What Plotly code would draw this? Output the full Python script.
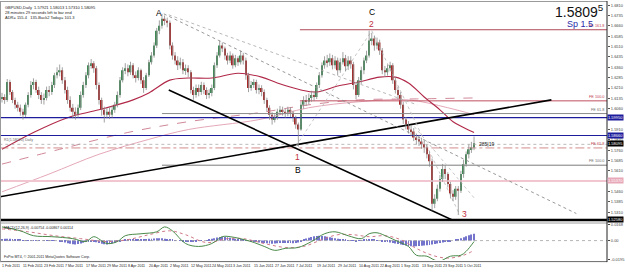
import plotly.graph_objects as go

# ---------------- data (GBPUSD daily) ----------------
OPEN0 = 1.6130
CLOSE = [
1.6145,1.6124,1.6253,1.6181,1.6124,1.6088,1.6067,1.6038,1.6017,1.6088,
1.6160,1.6231,1.6253,1.6196,1.6160,1.6124,1.6138,1.6196,1.6181,1.6231,
1.6303,1.6324,1.6339,1.6267,1.6196,1.6124,1.6067,1.6038,1.6017,1.6067,
1.6160,1.6231,1.6303,1.6375,1.6389,1.6353,1.6231,1.6124,1.6052,1.6017,
1.6038,1.6017,1.6052,1.6088,1.6160,1.6267,1.6339,1.6353,1.6324,1.6375,
1.6303,1.6282,1.6339,1.6267,1.6210,1.6303,1.6396,1.6446,1.6518,1.6625,
1.6661,1.6711,1.6697,1.6682,1.6518,1.6446,1.6410,1.6375,1.6396,1.6339,
1.6353,1.6324,1.6196,1.6160,1.6210,1.6181,1.6231,1.6196,1.6160,1.6174,
1.6210,1.6375,1.6446,1.6518,1.6496,1.6446,1.6410,1.6446,1.6375,1.6425,
1.6396,1.6446,1.6410,1.6303,1.6210,1.6231,1.6253,1.6196,1.6210,1.6181,
1.6124,1.6067,1.6017,1.5981,1.5995,1.6038,1.6052,1.6038,1.6024,1.6052,
1.6031,1.5995,1.5945,1.5909,1.6088,1.6124,1.6110,1.6138,1.6160,1.6145,
1.6231,1.6303,1.6375,1.6410,1.6396,1.6425,1.6375,1.6410,1.6339,1.6396,
1.6425,1.6367,1.6410,1.6382,1.6231,1.6160,1.6267,1.6339,1.6410,1.6446,
1.6554,1.6568,1.6518,1.6539,1.6482,1.6339,1.6324,1.6353,1.6375,1.6267,
1.6196,1.6160,1.6088,1.5981,1.5945,1.5909,1.5895,1.5852,1.5838,1.5823,
1.5802,1.5780,1.5730,1.5680,1.5372,1.5408,1.5480,1.5551,1.5623,1.5587,
1.5515,1.5444,1.5422,1.5480,1.5465,1.5587,1.5658,1.5730,1.5766,1.5780,
1.5809]
HIGH = [
1.6175,1.6165,1.6275,1.6270,1.6195,1.6140,1.6110,1.6090,1.6060,1.6105,
1.6180,1.6260,1.6280,1.6270,1.6220,1.6180,1.6170,1.6220,1.6225,1.6255,
1.6320,1.6360,1.6380,1.6360,1.6290,1.6220,1.6150,1.6095,1.6070,1.6090,
1.6185,1.6255,1.6325,1.6395,1.6420,1.6405,1.6370,1.6250,1.6140,1.6075,
1.6065,1.6070,1.6080,1.6110,1.6185,1.6290,1.6360,1.6390,1.6380,1.6400,
1.6390,1.6330,1.6360,1.6350,1.6290,1.6320,1.6415,1.6470,1.6540,1.6645,
1.6700,1.6747,1.6735,1.6720,1.6700,1.6540,1.6470,1.6440,1.6430,1.6420,
1.6380,1.6375,1.6340,1.6220,1.6235,1.6235,1.6255,1.6250,1.6215,1.6200,
1.6235,1.6395,1.6470,1.6554,1.6540,1.6510,1.6465,1.6475,1.6460,1.6450,
1.6440,1.6480,1.6465,1.6430,1.6320,1.6260,1.6275,1.6270,1.6235,1.6230,
1.6200,1.6140,1.6085,1.6035,1.6020,1.6060,1.6080,1.6075,1.6060,1.6075,
1.6070,1.6045,1.6010,1.5960,1.6110,1.6150,1.6160,1.6170,1.6190,1.6185,
1.6250,1.6325,1.6395,1.6440,1.6450,1.6460,1.6450,1.6440,1.6430,1.6425,
1.6470,1.6450,1.6440,1.6440,1.6400,1.6250,1.6290,1.6365,1.6430,1.6480,
1.6625,1.6610,1.6590,1.6575,1.6560,1.6500,1.6370,1.6380,1.6400,1.6390,
1.6290,1.6220,1.6180,1.6110,1.6000,1.5970,1.5940,1.5920,1.5880,1.5870,
1.5850,1.5830,1.5800,1.5750,1.5700,1.5440,1.5510,1.5580,1.5660,1.5650,
1.5600,1.5530,1.5470,1.5500,1.5500,1.5610,1.5690,1.5750,1.5800,1.5820,
1.5859]
LOW = [
1.6105,1.6095,1.6110,1.6160,1.6100,1.6060,1.6040,1.6010,1.5981,1.6000,
1.6070,1.6140,1.6200,1.6175,1.6130,1.6095,1.6090,1.6120,1.6150,1.6160,
1.6210,1.6280,1.6295,1.6240,1.6170,1.6095,1.6040,1.5990,1.5981,1.5995,
1.6050,1.6140,1.6210,1.6280,1.6350,1.6320,1.6200,1.6090,1.6010,1.5960,
1.5990,1.5985,1.5995,1.6030,1.6070,1.6140,1.6250,1.6310,1.6295,1.6305,
1.6280,1.6250,1.6265,1.6240,1.6175,1.6195,1.6290,1.6380,1.6430,1.6500,
1.6600,1.6640,1.6665,1.6650,1.6490,1.6415,1.6380,1.6340,1.6350,1.6310,
1.6305,1.6290,1.6170,1.6125,1.6140,1.6150,1.6160,1.6165,1.6130,1.6135,
1.6150,1.6195,1.6355,1.6430,1.6470,1.6415,1.6380,1.6390,1.6350,1.6360,
1.6370,1.6380,1.6380,1.6270,1.6180,1.6190,1.6210,1.6170,1.6165,1.6150,
1.6095,1.6040,1.5980,1.5945,1.5960,1.5980,1.6015,1.6010,1.5995,1.6005,
1.6000,1.5965,1.5915,1.5785,1.5900,1.6060,1.6080,1.6090,1.6110,1.6115,
1.6130,1.6210,1.6285,1.6350,1.6360,1.6370,1.6345,1.6350,1.6300,1.6320,
1.6380,1.6330,1.6340,1.6350,1.6200,1.6130,1.6145,1.6240,1.6310,1.6390,
1.6430,1.6520,1.6480,1.6490,1.6450,1.6310,1.6290,1.6300,1.6330,1.6240,
1.6170,1.6130,1.6060,1.5950,1.5910,1.5880,1.5860,1.5825,1.5800,1.5790,
1.5770,1.5740,1.5700,1.5640,1.5322,1.5340,1.5390,1.5460,1.5530,1.5550,
1.5490,1.5410,1.5390,1.5400,1.5290,1.5450,1.5560,1.5640,1.5700,1.5740,
1.5760]

# moving averages (sampled bar index, value)
MA1_I = [0,12,25,37,50,56,64,71,80,90,99,105,114,120,128,136,144,150,155,161,167,172,176,180]
MA1_V = [1.5766,1.5888,1.5995,1.6052,1.6124,1.6174,1.6267,1.6282,1.6282,1.6317,1.6289,1.6246,
         1.6196,1.6181,1.6224,1.6253,1.6289,1.6289,1.6246,1.6145,1.6052,1.5966,1.5924,1.5888]
MA2_I = [0,22,48,71,98,117,136,158,180]
MA2_V = [1.5659,1.5766,1.5888,1.5966,1.6031,1.6088,1.6124,1.6131,1.6138]
MA3_I = [0,18,37,56,71,98,117,136,155,170,180]
MA3_V = [1.5458,1.5587,1.5730,1.5838,1.5909,1.5981,1.6067,1.6110,1.6124,1.6067,1.6017]

# indicator panel
HIST = [0.0015,0.002,0.002,0.0018,0.0015,0.0012,0.001,0.0008,0.0005,0.0003,
 0.0002,0.0003,0.0005,0.0004,0.0002,0,-0.0002,-0.0003,0.0002,0.0004,0.0003,0,
 -0.001,-0.0015,-0.002,-0.0028,-0.0033,-0.0038,-0.004,-0.0035,-0.003,-0.0022,
 -0.0015,-0.001,-0.0008,-0.001,-0.0018,-0.0025,
 -0.0032,-0.0038,-0.004,-0.0036,-0.003,-0.0022,
 -0.0012,-0.0005,0.0002,0.0006,0.0008,0.001,0.0008,0.0006,0.0008,
 0.0012,0.0014,0.0015,0.0018,0.002,0.0022,0.0024,0.0025,0.0024,0.002,0.0016,0.0012,
 0.0008,0.0004,0,-0.0004,-0.0008,-0.001,-0.0012,-0.001,-0.0008,-0.0006,-0.0004,-0.0002,0,0.0005,0.001,
 0.0018,0.0025,0.0032,0.0038,0.004,0.0038,0.0035,0.003,0.0024,
 0.0018,0.0014,0.001,0.0008,0.0004,0,-0.0005,-0.001,
 -0.0015,-0.002,-0.0024,-0.0026,-0.0028,-0.003,-0.0032,-0.003,-0.0028,-0.0026,-0.0025,-0.0024,-0.0025,-0.0026,-0.0027,-0.0026,-0.002,
 -0.0005,0.001,0.0022,0.003,0.0038,0.0044,0.0048,0.005,0.0048,0.0044,0.004,0.0035,0.003,0.0025,0.002,
 0.0015,0.001,0.0006,0.0004,0.0002,-0.0002,-0.0005,-0.0003,0.0002,0.0006,0.001,0.0012,0.001,0.0006,0.0003,0,-0.0005,
 -0.001,-0.0015,-0.002,-0.0025,-0.003,-0.0035,-0.004,-0.0045,-0.005,-0.0055,-0.0058,-0.006,-0.0058,-0.0055,-0.0052,-0.005,-0.0048,-0.0045,-0.004,-0.0035,-0.003,-0.0025,-0.002,
 -0.0015,-0.001,-0.0005,0,0.0008,0.0015,0.0025,0.0035,0.0045,0.0055,0.0062,0.007]
MAIN_I = [0,7,12,19,27,32,35,40,44,47,53,59,62,65,70,75,80,84,87,95,100,104,108,113,118,123,127,132,137,140,143,147,151,155,158,162,165,167,171,175,177,180]
MAIN_V = [0.014,0.010,0.005,0.004,0.002,-0.001,0.004,-0.003,-0.001,0.005,0.007,0.009,0.014,0.010,-0.003,-0.006,-0.003,0.004,0.004,-0.001,-0.006,-0.010,-0.008,-0.007,-0.001,0.007,0.009,0.005,0.002,0.007,0.008,0.004,-0.001,-0.006,-0.015,-0.016,-0.020,-0.021,-0.016,-0.015,-0.011,-0.001]
SIG_I = [0,10,20,30,40,48,56,64,70,78,86,92,100,108,115,122,128,134,140,146,152,158,164,170,176,180]
SIG_V = [0.012,0.009,0.005,0.002,-0.001,0.001,0.006,0.010,0.006,-0.002,0.002,0.002,-0.003,-0.007,-0.006,0.001,0.006,0.006,0.004,0.005,0.001,-0.008,-0.015,-0.018,-0.015,-0.010]

DATE_LABELS = ["1 Feb 2011","11 Feb 2011","23 Feb 2011","7 Mar 2011","17 Mar 2011","29 Mar 2011",
               "8 Apr 2011","20 Apr 2011","2 May 2011","12 May 2011","24 May 2011","3 Jun 2011",
               "15 Jun 2011","27 Jun 2011","7 Jul 2011","19 Jul 2011","29 Jul 2011","10 Aug 2011",
               "22 Aug 2011","1 Sep 2011","13 Sep 2011","23 Sep 2011","5 Oct 2011"]
DATE_STEP = 8
PRICE_TICKS = [1.6810,1.6735,1.6660,1.6585,1.6510,1.6435,1.6360,1.6285,1.6210,1.6135,1.6060,
               1.5985,1.5910,1.5835,1.5760,1.5685,1.5610,1.5535,1.5460,1.5385,1.5310]

# horizontal levels: price, start bar, colour, width, dash
LEVELS = [
    (1.6632, 113.6, "#b04858", 1.0, "solid"),
    (1.6117, 113.6, "#c05060", 1.0, "solid"),
    (1.6025, 61.0, "#8c8c8c", 1.0, "solid"),
    (1.5995, -1.0, "#1c1c9c", 1.2, "solid"),
    (1.5866, -1.0, "#1c1c9c", 1.2, "solid"),
    (1.5802, -1.0, "#a8a8a8", 0.8, "dot"),
    (1.5776, -1.0, "#c87070", 0.8, "dashdot"),
    (1.5651, 61.0, "#7c7c7c", 1.0, "solid"),
    (1.5537, -1.0, "#f2c6d0", 2.0, "solid"),
    (1.5258, -1.0, "#000000", 1.5, "solid"),
]
LEVEL_TAGS = [("FE 161.8", 1.6632, "#c04050"), ("FE 100.0", 1.6117, "#c04050"),
              ("FE 61.8", 1.6025, "#707070"), ("FE 61.8", 1.5776, "#c04050"),
              ("FE 100.0", 1.5651, "#707070")]
AXIS_BOXES = [(1.5995, "1.59950", "#1c1c9c"), (1.5866, "1.58660", "#1c1c9c"),
              (1.5809, "1.58095", "#000000"), (1.5537, "1.55370", "#e8a8b8"),
              (1.5258, "1.52580", "#000000")]
# trend lines: x0, y0, x1, y1, colour, width, dash
TRENDS = [
    (63.6, 1.6196, 175.4, 1.5222, "#000000", 1.6, "solid"),
    (-0.76, 1.5422, 209.5, 1.6124, "#000000", 1.6, "solid"),
    (61.7, 1.6747, 219.0, 1.5301, "#8c8c8c", 0.9, "dot"),
    (63.6, 1.6740, 158.3, 1.6088, "#b0b0b0", 0.9, "dot"),
    (112.1, 1.5788, 141.0, 1.6625, "#c0c0c0", 0.9, "dot"),
    (141.0, 1.6625, 174.6, 1.5290, "#c0c0c0", 0.9, "dot"),
    (157.2, 1.5931, 180.3, 1.5408, "#c0c0c0", 0.9, "dot"),
]
# text, bar, price, colour, yshift, xshift
WAVE_LABELS = [("A", 61, 1.6747, "#000000", 1, -3), ("C", 141, 1.6625, "#000000", 19, 0),
               ("2", 141, 1.6625, "#c03040", 7, 0), ("1", 112.8, 1.5785, "#c03040", -10.5, 0),
               ("B", 112.8, 1.5785, "#000000", -23.5, 0), ("3", 175.0, 1.5290, "#c03040", 1, 4)]

# ---------------- figure ----------------
H, W = 272, 625
def yp(px):
    return 1 - px / H

n = min(len(CLOSE), len(HIGH), len(LOW))
IDX = list(range(n))
OPEN = [OPEN0] + CLOSE[:n - 1]
XMIN, XMAX = -0.76, 230.7
YMIN, YMAX = 1.5250, 1.6833
FONT = "Liberation Sans, Arial, sans-serif"

fig = go.Figure()

fig.add_trace(go.Scatter(x=MA3_I, y=MA3_V, mode="lines", line=dict(color="#e4a8b8", width=1, shape="spline"), hoverinfo="skip"))
fig.add_trace(go.Scatter(x=MA2_I, y=MA2_V, mode="lines", line=dict(color="#d08898", width=1, dash="dash", shape="spline"), hoverinfo="skip"))
fig.add_trace(go.Scatter(x=MA1_I, y=MA1_V, mode="lines", line=dict(color="#b02848", width=1.1, shape="spline"), hoverinfo="skip"))

for (p, s, c, w, d) in LEVELS:
    fig.add_trace(go.Scatter(x=[s, XMAX + 2], y=[p, p], mode="lines", line=dict(color=c, width=w, dash=d), hoverinfo="skip"))
for (x0, y0, x1, y1, c, w, d) in TRENDS:
    fig.add_trace(go.Scatter(x=[x0, x1], y=[y0, y1], mode="lines", line=dict(color=c, width=w, dash=d), hoverinfo="skip"))

wx, wy = [], []
for i in IDX:
    wx += [i, i, None]
    wy += [LOW[i], HIGH[i], None]
fig.add_trace(go.Scatter(x=wx, y=wy, mode="lines", line=dict(color="#8a8a8a", width=0.8), hoverinfo="skip"))
base = [min(OPEN[i], CLOSE[i]) for i in IDX]
hgt = [max(abs(CLOSE[i] - OPEN[i]), 0.0004) for i in IDX]
cols = ["#3f8a55" if CLOSE[i] >= OPEN[i] else "#a82828" for i in IDX]
fig.add_trace(go.Bar(x=IDX, y=hgt, base=base, width=0.62, marker=dict(color=cols, line=dict(width=0)), hoverinfo="skip"))

fig.add_trace(go.Scatter(x=[XMIN, XMAX + 2], y=[0, 0], mode="lines", line=dict(color="#a0a0a0", width=0.8, dash="dot"), xaxis="x", yaxis="y2", hoverinfo="skip"))
fig.add_trace(go.Bar(x=IDX, y=HIST[:n], width=0.35, marker=dict(color="#7474cc", line=dict(width=0)), xaxis="x", yaxis="y2", hoverinfo="skip"))
fig.add_trace(go.Scatter(x=SIG_I, y=SIG_V, mode="lines", line=dict(color="#d07888", width=1, dash="dot", shape="spline"), xaxis="x", yaxis="y2", hoverinfo="skip"))
fig.add_trace(go.Scatter(x=MAIN_I, y=MAIN_V, mode="lines", line=dict(color="#4a8a4a", width=1, shape="spline"), xaxis="x", yaxis="y2", hoverinfo="skip"))

ann = []
for k, lab in enumerate(DATE_LABELS):
    ann.append(dict(x=k * DATE_STEP, y=yp(268), xref="x", yref="paper", text=lab, showarrow=False,
                    xanchor="left", yanchor="middle", xshift=-2, font=dict(size=3.6, color="#222", family=FONT)))
for (t, x, y, c, sh, xs) in WAVE_LABELS:
    ann.append(dict(x=x, y=y, xref="x", yref="y", text=t, showarrow=False, yshift=sh, xshift=xs,
                    yanchor="middle", font=dict(size=8.5, color=c, family=FONT)))
for (t, p, c) in LEVEL_TAGS:
    ann.append(dict(x=0.998, y=p, xref="paper", yref="y", text=t, showarrow=False, xanchor="right", yanchor="bottom",
                    font=dict(size=3.8, color=c, family=FONT)))
for (p, t, c) in AXIS_BOXES:
    ann.append(dict(x=1.0, y=p, xref="paper", yref="y", text=t, showarrow=False, xanchor="left", yanchor="middle",
                    bgcolor=c, borderpad=0, font=dict(size=4, color="#ffffff", family=FONT)))
ann.append(dict(x=181, y=1.5802, xref="x", yref="y", text="285|19", showarrow=False, xanchor="left", yanchor="middle",
                font=dict(size=5, color="#222", family=FONT)))
ann.append(dict(x=0.004, y=1.5802, xref="paper", yref="y", text="R1(1.58020) Daily", showarrow=False, xanchor="left",
                yanchor="bottom", font=dict(size=3.6, color="#666", family=FONT)))
for k, t in enumerate(["GBPUSD,Daily  1.57921 1.58013 1.57310 1.58095",
                       "28 minutes 29 seconds left to bar end",
                       "ADR= 155.4   135-Back2 Today= 101.3"]):
    ann.append(dict(x=0.005, y=yp(2 + k * 5), xref="paper", yref="paper", text=t, showarrow=False,
                    xanchor="left", yanchor="top", font=dict(size=4, color="#222", family=FONT)))
ann.append(dict(x=0.999, y=yp(-1), xref="paper", yref="paper", text="1.5809<sup>5</sup>", showarrow=False,
                xanchor="right", yanchor="top", font=dict(size=14, color="#111", family=FONT)))
ann.append(dict(x=0.980, y=yp(16), xref="paper", yref="paper", text="Sp 1.5", showarrow=False,
                xanchor="right", yanchor="top", font=dict(size=9, color="#2a2aa8", family=FONT)))
ann.append(dict(x=0.004, y=yp(225), xref="paper", yref="paper", text="MACD(12,26,9) -0.00754 -0.00867 0.00114",
                showarrow=False, xanchor="left", yanchor="top", font=dict(size=3.6, color="#222", family=FONT)))
ann.append(dict(x=0.004, y=yp(263), xref="paper", yref="paper", text="FxPro MT4, © 2001-2011 MetaQuotes Software Corp.",
                showarrow=False, xanchor="left", yanchor="bottom", font=dict(size=3.6, color="#222", family=FONT)))

shapes = [
    dict(type="line", xref="paper", yref="paper", x0=0, x1=1, y0=yp(222), y1=yp(222), line=dict(color="#000", width=1.5)),
    dict(type="line", xref="paper", yref="paper", x0=0, x1=1, y0=yp(224.5), y1=yp(224.5), line=dict(color="#888", width=0.8)),
    dict(type="line", xref="paper", yref="paper", x0=0, x1=1, y0=yp(263.5), y1=yp(263.5), line=dict(color="#444", width=0.8)),
    dict(type="line", xref="paper", yref="paper", x0=0, x1=1, y0=yp(0.5), y1=yp(0.5), line=dict(color="#999", width=1)),
    dict(type="line", xref="paper", yref="paper", x0=1, x1=1, y0=yp(0), y1=yp(264), line=dict(color="#222", width=1)),
    dict(type="line", xref="paper", yref="paper", x0=0.0008, x1=0.0008, y0=yp(0), y1=yp(264), line=dict(color="#999", width=1)),
]

fig.update_layout(
    width=W, height=H, margin=dict(l=0, r=14, t=0, b=0),
    paper_bgcolor="#ffffff", plot_bgcolor="#ffffff", showlegend=False, barmode="overlay",
    font=dict(family=FONT, size=5, color="#333"),
    xaxis=dict(range=[XMIN, XMAX], showgrid=False, zeroline=False, showticklabels=False, ticks="", fixedrange=True),
    yaxis=dict(domain=[yp(222), yp(1)], range=[YMIN, YMAX], side="right", showgrid=False, zeroline=False,
               tickvals=PRICE_TICKS, ticktext=[f"{v:.4f}" for v in PRICE_TICKS], ticks="outside", ticklen=2,
               tickcolor="#555", tickfont=dict(size=4, color="#444"), showline=False),
    yaxis2=dict(domain=[yp(262), yp(224.5)], range=[-0.020, 0.018], side="right", anchor="x", showgrid=False,
                zeroline=False, tickvals=[0.0168, 0.0, -0.0195], ticktext=["0.0168", "0.00", "-0.0195"],
                ticks="outside", ticklen=2, tickfont=dict(size=4, color="#444")),
    annotations=ann, shapes=shapes,
)
fig.write_html("out.html")
